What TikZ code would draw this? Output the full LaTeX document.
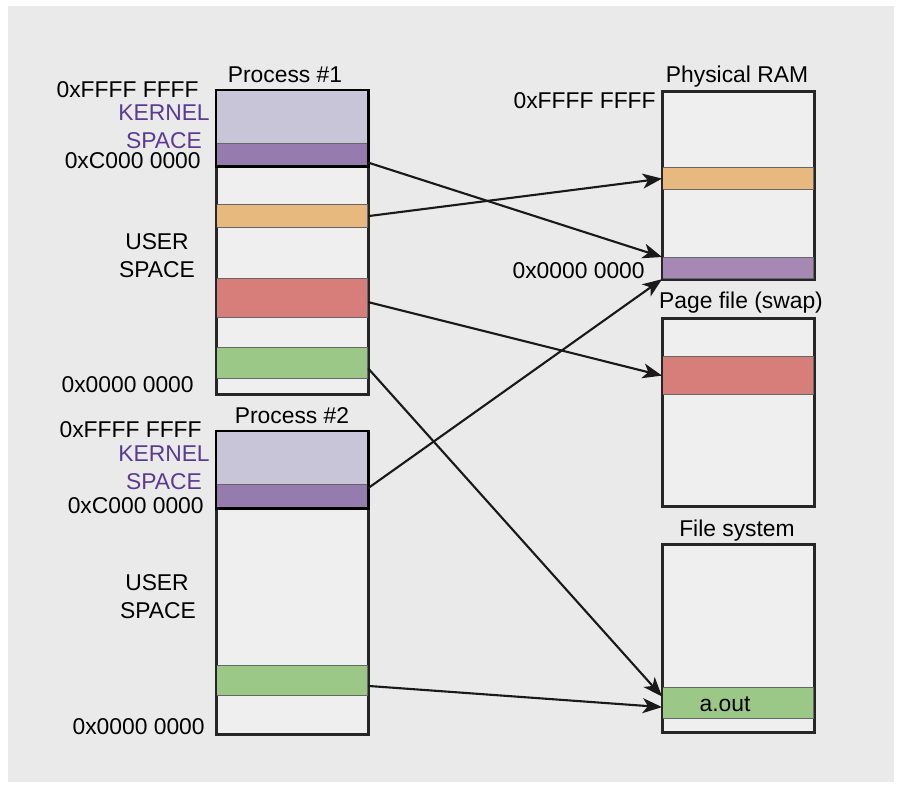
\documentclass[tikz,border=0pt]{standalone}
\usepackage{fontspec}
\setmainfont{Liberation Sans}
\usetikzlibrary{arrows.meta}

\definecolor{bggray}{HTML}{EAEAEA}
\definecolor{boxfill}{HTML}{EFEFEF}
\definecolor{kernlight}{HTML}{C9C5D8}
\definecolor{kerndark}{HTML}{967CAE}
\definecolor{rampurple}{HTML}{A688B5}
\definecolor{pageorange}{HTML}{E7B97F}
\definecolor{pagered}{HTML}{D77E7A}
\definecolor{pagegreen}{HTML}{9BC887}
\definecolor{kerntext}{HTML}{5B3A92}

\tikzset{
  memory/.style={draw=black!85, line width=1.1pt, fill=boxfill, anchor=north west, minimum width=3.02cm},
  band/.style={draw=black!60, line width=0.7pt, anchor=north west, minimum width=3.02cm},
  kernframe/.style={draw=black, line width=1.7pt},
  conn/.style={-{Stealth[length=11pt, width=8.5pt, inset=3pt]}, line width=1.2pt, black!90},
  addr/.style={anchor=base east},
  title/.style={anchor=base},
  spacelabel/.style={anchor=base},
}

% name, colour, left x, top y, bottom y
\newcommand{\memband}[5]{\node[band, fill=#2, minimum height={(#5-#4)*0.02cm}] (#1) at (#3,#4) {};}

\begin{document}
\begin{tikzpicture}[x=0.02cm, y=-0.02cm, every node/.style={font=\fontsize{13}{15.9}\selectfont, inner sep=0pt}]
    \useasboundingbox (0,0) rectangle (900,787);
    \fill[bggray] (8,6) rectangle (894,782);

    %memory boxes
    \node[memory, minimum height=6.06cm] (p1) at (216,90) {};
    \node[memory, minimum height=6.04cm] (p2) at (216,431) {};
    \node[memory, minimum height=3.74cm] (ram) at (662,91) {};
    \node[memory, minimum height=3.74cm] (page) at (662,318) {};
    \node[memory, minimum height=3.74cm] (fs) at (662,544) {};

    %bands
    \memband{p1kl}{kernlight}{216}{90}{143}
    \memband{p1kd}{kerndark}{216}{143}{165}
    \memband{p1or}{pageorange}{216}{204}{227}
    \memband{p1red}{pagered}{216}{278}{317}
    \memband{p1gr}{pagegreen}{216}{347}{378}
    \memband{p2kl}{kernlight}{216}{431}{484}
    \memband{p2kd}{kerndark}{216}{484}{507}
    \memband{p2gr}{pagegreen}{216}{665}{695}
    \memband{ramor}{pageorange}{662}{167}{189}
    \memband{rampu}{rampurple}{662}{257}{278}
    \memband{pagered}{pagered}{662}{356}{394}
    \memband{aout}{pagegreen}{662}{687}{718}
    \node[anchor=base] (aouttext) at (725,711) {a.out};

    \foreach \b in {p1,p2,ram,page,fs}
        \draw[draw=black!85, line width=1.1pt] (\b.north west) rectangle (\b.south east);
    \draw[kernframe] (p1kl.north west) rectangle (p1kd.south east);
    \draw[kernframe] (p2kl.north west) rectangle (p2kd.south east);

    %titles
    \node[title] (p1title) at (285,83) {Process \#1};
    \node[title] (p2title) at (292,423) {Process \#2};
    \node[title] (ramtitle) at (737,83) {Physical RAM};
    \node[title] (pagetitle) at (741,309) {Page file (swap)};
    \node[title] (fstitle) at (737,536) {File system};

    %addresses
    \node[addr] (p1hi) at (199,98) {0xFFFF FFFF};
    \node[addr] (p1mid) at (201,169) {0xC000 0000};
    \node[addr] (p1lo) at (194,393) {0x0000 0000};
    \node[addr] (p2hi) at (202,438) {0xFFFF FFFF};
    \node[addr] (p2mid) at (204,513) {0xC000 0000};
    \node[addr] (p2lo) at (205,734) {0x0000 0000};
    \node[addr] (ramhi) at (656,109) {0xFFFF FFFF};
    \node[addr] (ramlo) at (645,279) {0x0000 0000};

    %space labels
    \node[spacelabel, text=kerntext] (p1kern) at (164,121) {KERNEL};
    \node[spacelabel, text=kerntext] (p1kernb) at (164,149) {SPACE};
    \node[spacelabel] (p1user) at (157,250) {USER};
    \node[spacelabel] (p1userb) at (157,278) {SPACE};
    \node[spacelabel, text=kerntext] (p2kern) at (164,461) {KERNEL};
    \node[spacelabel, text=kerntext] (p2kernb) at (164,489) {SPACE};
    \node[spacelabel] (p2user) at (157,590) {USER};
    \node[spacelabel] (p2userb) at (158,618) {SPACE};

    %arrows
    \draw[conn] (p1kd.-6) -- (rampu.north west);
    \draw[conn] (p1or.east) -- (ramor.west);
    \draw[conn] (p1red.-3) -- (pagered.west);
    \draw[conn] (p1gr.-4) -- (aout.175);
    \draw[conn] (p2kd.6) -- (rampu.south west);
    \draw[conn] (p2gr.-4) -- (aout.183);
\end{tikzpicture}
\end{document}
